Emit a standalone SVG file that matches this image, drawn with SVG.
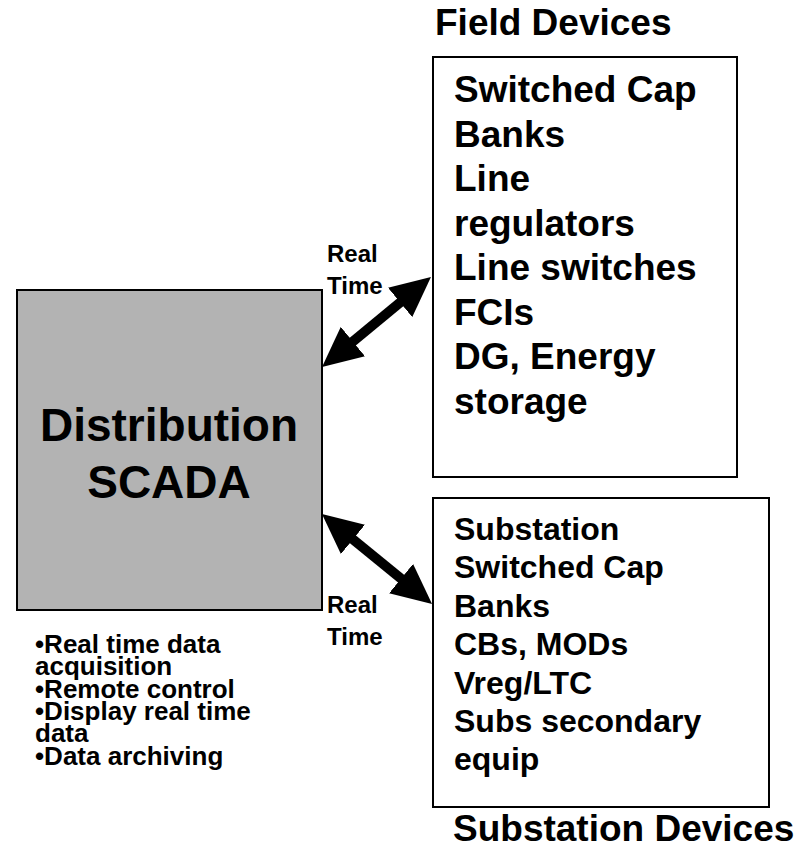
<svg xmlns="http://www.w3.org/2000/svg" width="802" height="849" viewBox="0 0 802 849">
<style>
text{font-family:"Liberation Sans",Arial,sans-serif;font-weight:bold;fill:#000}
.box{fill:#fff;stroke:#000;stroke-width:2}
.scada{fill:#b3b3b3;stroke:#000;stroke-width:2}
.big{font-size:46px}
.field{font-size:37px}
.sub{font-size:32px}
.title{font-size:37px}
.lbl{font-size:24px}
.list{font-size:26px}
.conn{stroke:#000;stroke-width:10;fill:none;marker-start:url(#ah);marker-end:url(#ah)}
</style>
<defs>
<marker id="ah" viewBox="0 0 40 38" refX="18" refY="19" markerWidth="40" markerHeight="38" markerUnits="userSpaceOnUse" orient="auto-start-reverse">
<path d="M0,0 L40,19 L0,38 Z" fill="#000"/>
</marker>
</defs>
<rect width="802" height="849" fill="#fff"/>
<g id="scada">
<rect class="scada" x="17" y="290" width="305" height="320"/>
<text class="big" x="169" y="441" text-anchor="middle">Distribution</text>
<text class="big" x="169" y="498" text-anchor="middle">SCADA</text>
</g>
<g id="functions">
<text class="list" x="35" y="653">•Real time data</text>
<text class="list" x="35" y="675">acquisition</text>
<text class="list" x="35" y="698">•Remote control</text>
<text class="list" x="35" y="720">•Display real time</text>
<text class="list" x="35" y="742">data</text>
<text class="list" x="35" y="765">•Data archiving</text>
</g>
<g id="field-devices">
<text class="title" x="435" y="35">Field Devices</text>
<rect class="box" x="433" y="57" width="304" height="420"/>
<text class="field" x="454" y="102">Switched Cap</text>
<text class="field" x="454" y="146.5">Banks</text>
<text class="field" x="454" y="191">Line</text>
<text class="field" x="454" y="235.5">regulators</text>
<text class="field" x="454" y="280">Line switches</text>
<text class="field" x="454" y="324.5">FCIs</text>
<text class="field" x="454" y="369">DG, Energy</text>
<text class="field" x="454" y="413.5">storage</text>
</g>
<g id="substation-devices">
<rect class="box" x="433" y="498" width="336" height="309"/>
<text class="sub" x="454" y="540">Substation</text>
<text class="sub" x="454" y="578">Switched Cap</text>
<text class="sub" x="454" y="617">Banks</text>
<text class="sub" x="454" y="655">CBs, MODs</text>
<text class="sub" x="454" y="694">Vreg/LTC</text>
<text class="sub" x="454" y="732">Subs secondary</text>
<text class="sub" x="454" y="770">equip</text>
<text class="title" x="453" y="841">Substation Devices</text>
</g>
<g id="connectors">
<line class="conn" x1="339" y1="353" x2="414" y2="291"/>
<text class="lbl" x="327" y="262">Real</text>
<text class="lbl" x="327" y="294">Time</text>
<line class="conn" x1="339" y1="528" x2="415" y2="590"/>
<text class="lbl" x="327" y="613">Real</text>
<text class="lbl" x="327" y="645">Time</text>
</g>
</svg>
